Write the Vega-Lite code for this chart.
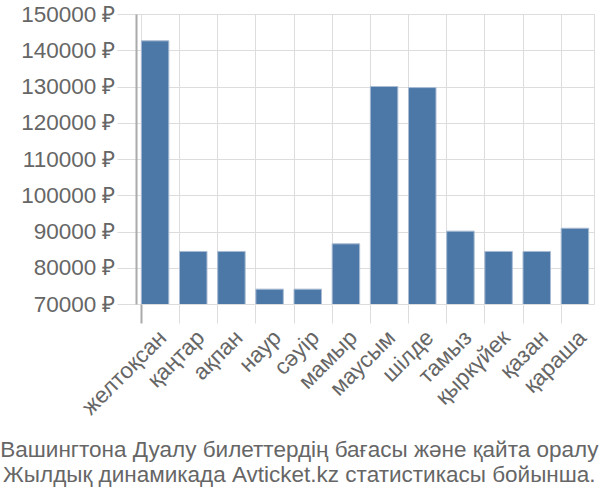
{
  "$schema": "https://vega.github.io/schema/vega-lite/v6.json",
  "width": 458,
  "height": 290,
  "autosize": {"type": "none"},
  "padding": {"left": 136, "top": 14, "right": 6, "bottom": 196},
  "background": "white",
  "config": {
    "font": "Liberation Sans",
    "view": {"stroke": "#dddddd", "strokeWidth": 1}
  },
  "title": {
    "text": ["Вашингтона Дуалу билеттердің бағасы және қайта оралу", "Жылдық динамикада Avticket.kz статистикасы бойынша."],
    "orient": "bottom",
    "anchor": "middle",
    "frame": "bounds",
    "fontSize": 22.5,
    "fontWeight": "normal",
    "color": "#666666",
    "lineHeight": 25,
    "offset": 20,
    "dx": -8
  },
  "data": {
    "values": [
      {"month": "желтоқсан", "price": 142600},
      {"month": "қаңтар", "price": 84500},
      {"month": "ақпан", "price": 84500},
      {"month": "наур", "price": 74100},
      {"month": "сәуір", "price": 74100},
      {"month": "мамыр", "price": 86600},
      {"month": "маусым", "price": 130000},
      {"month": "шілде", "price": 129700},
      {"month": "тамыз", "price": 90100},
      {"month": "қыркүйек", "price": 84500},
      {"month": "қазан", "price": 84500},
      {"month": "қараша", "price": 90900}
    ]
  },
  "mark": {"type": "bar", "color": "#4c78a8", "stroke": "#a9bcd3", "strokeWidth": 1, "clip": true},
  "encoding": {
    "x": {
      "field": "month",
      "type": "nominal",
      "sort": null,
      "scale": {"paddingInner": 0.28, "paddingOuter": 0.14},
      "axis": {
        "title": null,
        "labelAngle": -45,
        "labelFontSize": 22.5,
        "labelColor": "#666666",
        "labelPadding": 3,
        "bandPosition": 0,
        "grid": true,
        "gridColor": "#dddddd",
        "ticks": true,
        "tickColor": {"condition": {"test": "datum.value === 'желтоқсан'", "value": "#aaaaaa"}, "value": "#dddddd"},
        "tickWidth": {"condition": {"test": "datum.value === 'желтоқсан'", "value": 2}, "value": 1},
        "tickSize": 19,
        "domain": false
      }
    },
    "y": {
      "field": "price",
      "type": "quantitative",
      "scale": {"domain": [70000, 150000], "zero": false},
      "axis": {
        "title": null,
        "values": [70000, 80000, 90000, 100000, 110000, 120000, 130000, 140000, 150000],
        "labelExpr": "format(datum.value, 'd') + ' ₽'",
        "labelFontSize": 22.5,
        "labelColor": "#666666",
        "labelPadding": 2,
        "gridColor": "#dddddd",
        "ticks": true,
        "tickColor": "#dddddd",
        "tickSize": 19,
        "domainColor": "#aaaaaa",
        "domainWidth": 2
      }
    }
  }
}
